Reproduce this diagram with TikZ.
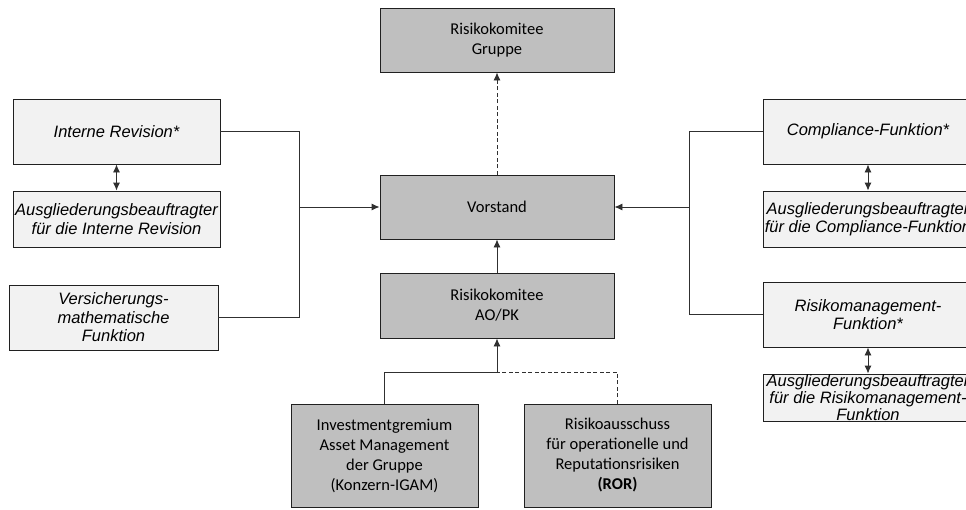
\documentclass[tikz,border=0pt]{standalone}
\usepackage{fontspec}
\setmainfont{Carlito}
\newfontfamily\arialfont{Liberation Sans}
\usetikzlibrary{arrows.meta}
\definecolor{lightbox}{HTML}{F2F2F2}
\definecolor{darkbox}{HTML}{BFBFBF}
\definecolor{edge}{HTML}{202020}
\definecolor{conn}{HTML}{303030}
\tikzset{
  lbox/.style={draw=edge, line width=0.9pt, fill=lightbox, align=center, inner xsep=1pt, inner ysep=0pt,
    font=\arialfont\itshape\fontsize{16.5}{18.5}\selectfont, minimum width=#1},
  lbox/.default=207pt,
  gbox/.style={draw=edge, line width=0.9pt, fill=darkbox, align=center, inner xsep=1pt, inner ysep=0pt,
    font=\fontsize{16.5}{20}\selectfont, minimum width=#1},
  gbox/.default=234pt,
  tip/.style={-{Latex[length=8pt,width=7pt]}},
  conline/.style={draw=conn, line width=0.9pt},
  dashline/.style={draw=conn, line width=0.9pt, dash pattern=on 4pt off 2.5pt},
  dbl/.style={draw=conn, line width=0.9pt, {Latex[length=8pt,width=7pt]}-{Latex[length=8pt,width=7pt]}}
}
\begin{document}
\begin{tikzpicture}[x=1pt,y=-1pt]
\path[use as bounding box] (0,0) rectangle (966,509);
\clip (0,0) rectangle (966,509);
% centre column
\node[gbox, minimum height=64pt] (grp) at (497,40) {Risikokomitee\\Gruppe};
\node[gbox, minimum height=64pt] (vor) at (497,207) {Vorstand};
\node[gbox, minimum height=65pt] (aopk) at (497,305.5) {Risikokomitee\\AO/PK};
\node[gbox=187pt, minimum height=103pt] (igam) at (384.5,455.5) {Investmentgremium\\Asset Management\\der Gruppe\\(Konzern-IGAM)};
\node[gbox=187pt, minimum height=103pt] (ror) at (617.5,455.5) {Risikoausschuss\\für operationelle und\\Reputationsrisiken\\\textbf{(ROR)}};
% left column
\node[lbox, minimum height=65pt] (ir) at (116.5,131.5) {Interne Revision*};
\node[lbox, minimum height=56pt] (air) at (116.5,219) {Ausgliederungsbeauftragter\\für die Interne Revision};
\node[lbox=209pt, minimum height=65pt] (vm) at (113.5,317.5) {Versicherungs-\\mathematische\\Funktion};
% right column
\node[lbox=210pt, minimum height=65pt] (cf) at (868,131.5) {Compliance-Funktion*};
\node[lbox=210pt, minimum height=56pt] (acf) at (868,219) {Ausgliederungsbeauftragter\\für die Compliance-Funktion};
\node[lbox=210pt, minimum height=65pt] (rm) at (868,314.5) {Risikomanagement-\\Funktion*};
\node[lbox=210pt, minimum height=47pt, font=\arialfont\itshape\fontsize{16.5}{16.8}\selectfont] (arm) at (868,397.5) {Ausgliederungsbeauftragter\\für die Risikomanagement-\\Funktion};
% junction coordinates
\coordinate (lj) at (299,207);
\coordinate (rj) at (689,207);
\coordinate (bj) at (497,372);
% left connectors
\draw[conline] (ir.east) -- (299,131.5) |- (vm.east);
\draw[conline, tip] (lj) -- (vor.west);
% right connectors
\draw[conline] (cf.west) -- (689,131.5) |- (rm.west);
\draw[conline, tip] (rj) -- (vor.east);
% vertical links
\draw[conline, tip] (aopk.north) -- (vor.south);
\draw[dashline, tip] (vor.north) -- (grp.south);
\draw[conline] (igam.north) |- (bj);
\draw[dashline] (ror.north) |- (bj);
\draw[conline, tip] (bj) -- (aopk.south);
% double arrows
\draw[dbl] (ir.south) -- (air.north);
\draw[dbl] (cf.south) -- (acf.north);
\draw[dbl] (rm.south) -- (arm.north);
\end{tikzpicture}
\end{document}
